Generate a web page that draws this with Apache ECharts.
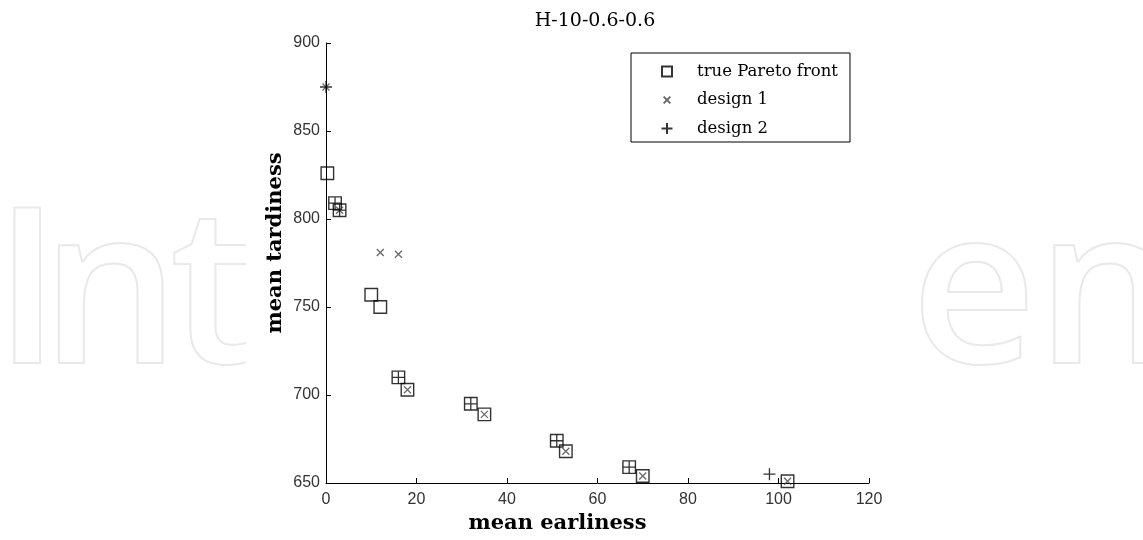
<!DOCTYPE html>
<html>
<head>
<meta charset="utf-8">
<script src="https://cdn.jsdelivr.net/npm/echarts@6/dist/echarts.min.js"></script>
<style>
html,body{margin:0;padding:0;background:#fff;}
#chart{width:1143px;height:540px;}
</style>
</head>
<body>
<div id="chart"></div>
<script>
// ---- data ----
const titleText = 'H-10-0.6-0.6';
const xName = 'mean earliness';
const yName = 'mean tardiness';
const seriesNames = ['true Pareto front', 'design 1', 'design 2'];
const paretoFront = [[0.3,826],[2,809],[3,805],[10,757],[12,750],[16,710],[18,703],[32,695],[35,689],[51,674],[53,668],[67,659],[70,654],[102,651]];
const design1 = [[0,875],[3,805],[12,781],[16,780],[18,703],[35,689],[53,668],[70,654],[102,651]];
const design2 = [[0,875],[2,809],[3,805],[16,710],[32,695],[51,674],[67,659],[98,655]];
const xTicks = {min:0, max:120, interval:20};
const yTicks = {min:650, max:900, interval:50};
const watermarkLetters = ['I', 'n', 't', 'en'];

const chart = echarts.init(document.getElementById('chart'), null, {renderer:'canvas'});
const serif = '"DejaVu Serif", "Liberation Serif", serif';
const sans = '"Liberation Sans", Arial, sans-serif';
const squarePath = 'path://M0,0L10,0L10,10L0,10Z';
const crossPath = 'path://M0,0L10,10M10,0L0,10';
const plusPath = 'path://M5,0L5,10M0,5L10,5';
const crossLegend = 'path://M-4,-4M14,14M0,0L10,10M10,0L0,10';
const plusLegend = 'path://M-0.5,-0.5M10.5,10.5M5,0L5,10M0,5L10,5';
const squareLegend = 'path://M-1,-1M11,11M0,0L10,0L10,10L0,10Z';

const wmStyle = {font:'600 218px "Open Sans"', fill:'rgba(0,0,0,0)', stroke:'#e9e9e9', lineWidth:2};
const wmLefts = [-7, 40, 169, 910];

chart.setOption({
  backgroundColor:'#fff',
  animation:false,
  title:{text:titleText, left:590, textAlign:'center', top:7,
    textStyle:{fontFamily:serif, fontSize:19, fontWeight:'normal', color:'#000'}},
  graphic:watermarkLetters.map((t, i) => ({
    type:'text', z:-10, left:wmLefts[i], top:191, silent:true,
    style:Object.assign({text:t}, wmStyle)
  })).concat([
    {type:'rect', z:-5, silent:true, shape:{x:246, y:0, width:660, height:540}, style:{fill:'#fff'}}
  ]),
  legend:{
    left:631, top:53, orient:'vertical',
    backgroundColor:'#fff',
    borderColor:'#000', borderWidth:1,
    padding:[10,12,5,29],
    itemWidth:50, itemHeight:12, itemGap:11.5,
    symbolKeepAspect:true,
    textStyle:{fontFamily:serif, fontSize:16.5, color:'#000'},
    data:[
      {name:seriesNames[0], icon:squareLegend},
      {name:seriesNames[1], icon:crossLegend},
      {name:seriesNames[2], icon:plusLegend}
    ]
  },
  grid:{left:326, right:274, top:43, bottom:57, containLabel:false},
  xAxis:{
    type:'value', min:xTicks.min, max:xTicks.max, interval:xTicks.interval,
    name:xName, nameLocation:'middle', nameGap:25,
    nameTextStyle:{fontFamily:serif, fontSize:21, fontWeight:'bold', color:'#000', padding:[0,80,0,0]},
    axisLine:{show:true, onZero:false, lineStyle:{color:'#000', width:1}},
    axisTick:{show:true, inside:true, length:5, lineStyle:{color:'#000'}},
    axisLabel:{fontFamily:sans, fontSize:16, color:'#333', margin:9},
    splitLine:{show:false}
  },
  yAxis:{
    type:'value', min:yTicks.min, max:yTicks.max, interval:yTicks.interval,
    name:yName, nameLocation:'middle', nameGap:40,
    nameTextStyle:{fontFamily:serif, fontSize:21, fontWeight:'bold', color:'#000', padding:[0,0,0,40]},
    axisLine:{show:true, onZero:false, lineStyle:{color:'#000', width:1}},
    axisTick:{show:true, inside:true, length:5, lineStyle:{color:'#000'}},
    axisLabel:{fontFamily:sans, fontSize:16, color:'#333', margin:6},
    splitLine:{show:false}
  },
  series:[
    {name:seriesNames[0], type:'scatter', data:paretoFront, symbol:squarePath, symbolSize:12.5,
      itemStyle:{color:'rgba(0,0,0,0)', borderColor:'#000', borderWidth:1.4}, z:2},
    {name:seriesNames[1], type:'scatter', data:design1, symbol:crossPath, symbolSize:7,
      itemStyle:{color:'rgba(0,0,0,0)', borderColor:'#444', borderWidth:1.3}, z:3},
    {name:seriesNames[2], type:'scatter', data:design2, symbol:plusPath, symbolSize:12,
      itemStyle:{color:'rgba(0,0,0,0)', borderColor:'#000', borderWidth:1.3}, z:4}
  ]
});
</script>
</body>
</html>
